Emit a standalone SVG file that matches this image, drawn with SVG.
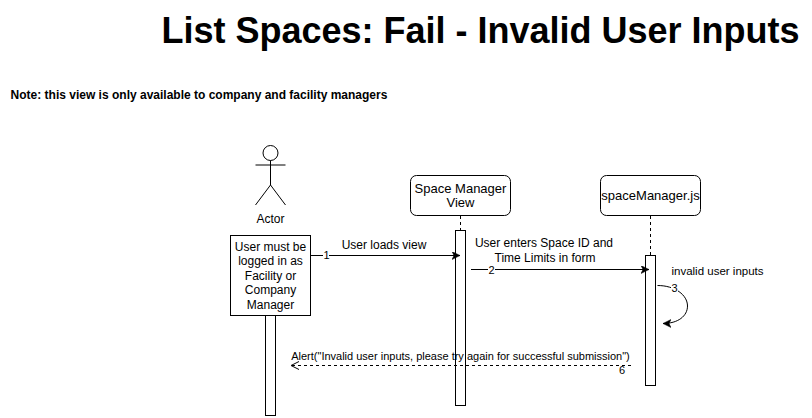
<svg xmlns="http://www.w3.org/2000/svg" width="812" height="418" viewBox="0 0 812 418">
<style>
text{font-family:"Liberation Sans",Arial,sans-serif;fill:#000;text-anchor:middle}
.s{fill:#fff;stroke:#000;stroke-width:1}
.l{fill:none;stroke:#000;stroke-width:1}
.d{fill:none;stroke:#000;stroke-width:1;stroke-dasharray:3 3}
.t13{font-size:13px}
.t12{font-size:12px}
.t11{font-size:11px}
.n{font-size:11px}
</style>
<defs>
<marker id="blk" markerUnits="userSpaceOnUse" markerWidth="10" markerHeight="10" refX="8" refY="4" orient="auto"><path d="M0,0 L8,4 L0,8 L2,4 Z" fill="#000" stroke="#000" stroke-width="0.5"/></marker>
<marker id="opn" markerUnits="userSpaceOnUse" markerWidth="10" markerHeight="10" refX="9" refY="4" orient="auto"><path d="M1,0 L9,4 L1,8" fill="none" stroke="#000"/></marker>
</defs>
<rect width="812" height="418" fill="#fff"/>
<text id="title" x="480.500" y="43" style="font-size:36px;font-weight:bold">List Spaces: Fail - Invalid User Inputs</text>
<text id="note" x="199" y="99" style="font-size:12px;font-weight:bold">Note: this view is only available to company and facility managers</text>
<g id="actor"><circle class="s" cx="270.500" cy="153" r="7.500"/><path class="l" d="M255.500,165H285.500M270.500,160.500V185M270.500,185L255.500,205M270.500,185L285.500,205"/><text class="t12" x="270.500" y="223">Actor</text></g>
<g id="actor-bar"><rect class="s" x="265.500" y="300.500" width="10" height="115"/></g>
<g id="precondition"><rect class="s" x="230.500" y="235.500" width="80" height="80"/><text class="t12" x="270.500" y="251">User must be</text><text class="t12" x="270.500" y="265">logged in as</text><text class="t12" x="270.500" y="280">Facility or</text><text class="t12" x="270.500" y="294">Company</text><text class="t12" x="270.500" y="309">Manager</text></g>
<g id="view-bar"><rect class="s" x="455.500" y="230.500" width="10" height="175"/></g>
<g id="view"><rect class="s" x="410.500" y="175.500" width="100" height="40" rx="6"/><text class="t13" x="460.500" y="193">Space Manager</text><text class="t13" x="460.500" y="207">View</text></g>
<g id="js-bar"><rect class="s" x="645.500" y="255.500" width="10" height="130"/></g>
<g id="js"><rect class="s" x="600.500" y="175.500" width="100" height="40" rx="6"/><text class="t13" x="650.500" y="200">spaceManager.js</text></g>
<g id="connectors">
<path class="d" d="M460.500,216V230"/>
<path class="d" d="M650.500,216V255"/>
<path class="l" d="M310,255.500H460" marker-end="url(#blk)"/>
<path class="l" d="M471,269.500H649" marker-end="url(#blk)"/>
<path class="l" d="M657.500,285.500C675,285.500 687.500,295 687.500,306C687.500,316 678,323.500 663,323.500" marker-end="url(#blk)"/>
<path class="d" d="M631,365.500H291" marker-end="url(#opn)"/>
</g>
<g id="labels">
<text class="t12" x="384" y="249">User loads view</text>
<rect x="323" y="250" width="6" height="11" fill="#fff"/><text class="n" x="326.500" y="259">1</text>
<text class="t12" x="544" y="247">User enters Space ID and</text><text class="t12" x="545" y="262">Time Limits in form</text>
<rect x="488" y="264" width="7" height="11" fill="#fff"/><text class="n" x="491.500" y="274">2</text>
<text class="t11" x="717.500" y="275" style="font-size:11.500px">invalid user inputs</text>
<rect x="671" y="282" width="7" height="11" fill="#fff"/><text class="n" x="674.500" y="292">3</text>
<text class="t11" x="460.500" y="360">Alert("Invalid user inputs, please try again for successful submission")</text>
<text class="n" x="622" y="374">6</text>
</g>
</svg>
